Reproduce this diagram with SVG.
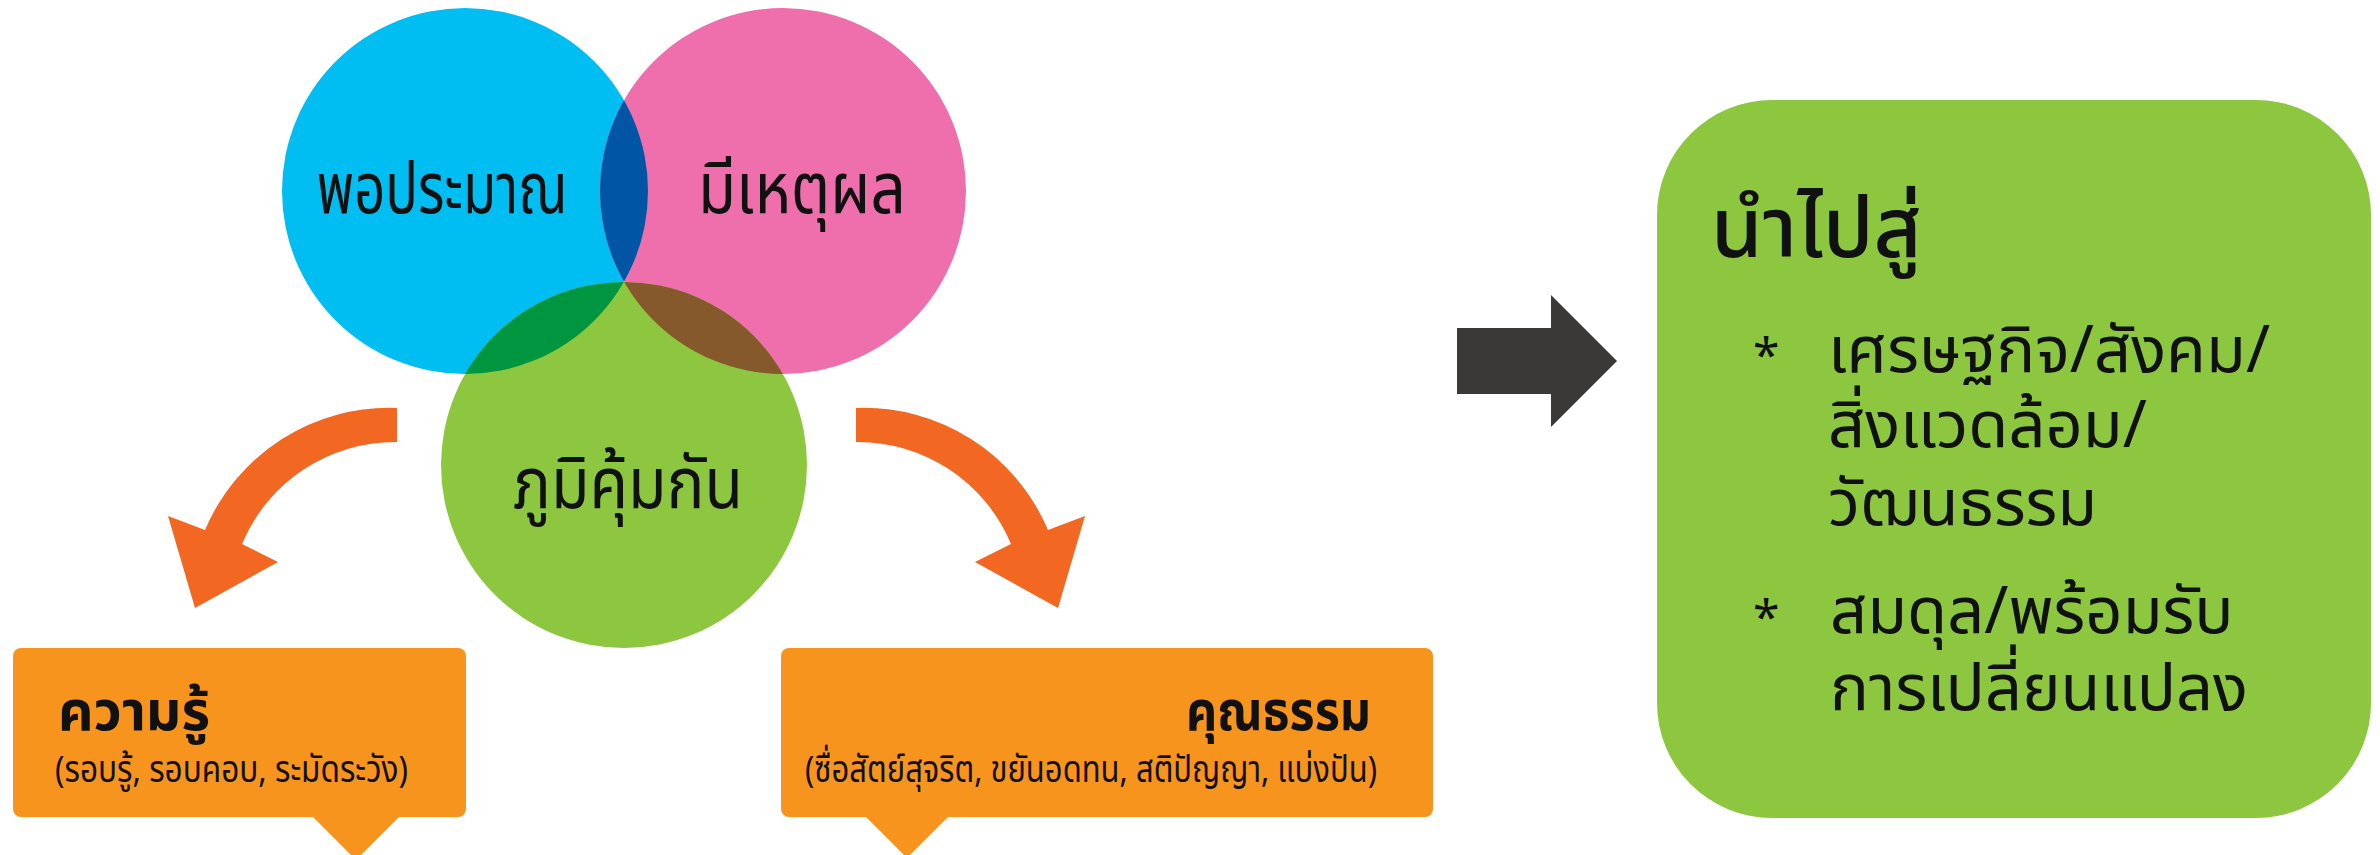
<svg xmlns="http://www.w3.org/2000/svg" width="2380" height="855" viewBox="0 0 2380 855">
<style>
  .th { font-family: "Noto Sans Thai", "Noto Sans", "DejaVu Sans", sans-serif; fill: #111; }
  .lbl { font-size: 72px; }
  .ttl { font-size: 55px; font-weight: bold; }
  .sub { font-size: 37px; }
  .gt { font-size: 65px; }
  .box { fill: #F7941D; }
  .curve { fill: #F26722; }
</style>
<defs>
  <clipPath id="cBlue"><circle cx="465" cy="191" r="183"/></clipPath>
  <clipPath id="cPink"><circle cx="783" cy="191" r="183"/></clipPath>
</defs>
<rect width="2380" height="855" fill="#ffffff"/>

<g id="circle-pormpraman">
  <circle cx="465" cy="191" r="183" fill="#00BDF2"/>
</g>
<g id="circle-meehetpon">
  <circle cx="783" cy="191" r="183" fill="#EE6FAB"/>
</g>
<g id="circle-pumkumkan">
  <circle cx="624" cy="465" r="183" fill="#8DC63F"/>
</g>
<g id="overlaps">
  <circle cx="783" cy="191" r="183" fill="#0055A5" clip-path="url(#cBlue)"/>
  <circle cx="624" cy="465" r="183" fill="#00953F" clip-path="url(#cBlue)"/>
  <circle cx="624" cy="465" r="183" fill="#85592B" clip-path="url(#cPink)"/>
</g>
<g id="labels-circles">
  <text class="th lbl" x="442" y="213" text-anchor="middle" textLength="251" lengthAdjust="spacingAndGlyphs">พอประมาณ</text>
  <text class="th lbl" x="802" y="213" text-anchor="middle" textLength="208" lengthAdjust="spacingAndGlyphs">มีเหตุผล</text>
  <text class="th lbl" x="628" y="508" text-anchor="middle" textLength="230" lengthAdjust="spacingAndGlyphs">ภูมิคุ้มกัน</text>
</g>

<g id="connectors">
  <path class="curve" d="M 397 408 A 200 200 0 0 0 205 530 L 168 516 L 195 608 L 278 562 L 242 544 A 166 166 0 0 1 397 442 Z"/>
  <path class="curve" d="M 856 408 A 200 200 0 0 1 1048 530 L 1085 516 L 1058 608 L 975 562 L 1011 544 A 166 166 0 0 0 856 442 Z"/>
  <polygon points="1457,328 1551,328 1551,295 1617,361 1551,427 1551,394 1457,394" fill="#3B3937"/>
</g>

<g id="box-knowledge">
  <rect class="box" x="13" y="648" width="453" height="169" rx="8"/>
  <polygon class="box" points="312,816 400,816 356,860"/>
  <text class="th ttl" x="58" y="730" textLength="152" lengthAdjust="spacingAndGlyphs">ความรู้</text>
  <text class="th sub" x="55" y="782" textLength="353" lengthAdjust="spacingAndGlyphs">(รอบรู้, รอบคอบ, ระมัดระวัง)</text>
</g>

<g id="box-morality">
  <rect class="box" x="781" y="648" width="652" height="169" rx="8"/>
  <polygon class="box" points="865,816 949,816 907,858"/>
  <text class="th ttl" x="1371" y="730" text-anchor="end" textLength="185" lengthAdjust="spacingAndGlyphs">คุณธรรม</text>
  <text class="th sub" x="1377" y="782" text-anchor="end" textLength="572" lengthAdjust="spacingAndGlyphs">(ซื่อสัตย์สุจริต, ขยันอดทน, สติปัญญา, แบ่งปัน)</text>
</g>

<g id="box-result">
  <rect x="1657" y="100" width="714" height="718" rx="115" fill="#8DC63F"/>
  <text class="th" x="1711" y="257" font-size="83" font-weight="500">นำไปสู่</text>
  <text class="th" x="1753" y="372" font-size="48">*</text>
  <text class="th gt" x="1828" y="372">เศรษฐกิจ/สังคม/</text>
  <text class="th gt" x="1828" y="447">สิ่งแวดล้อม/</text>
  <text class="th gt" x="1828" y="525">วัฒนธรรม</text>
  <text class="th" x="1753" y="634" font-size="48">*</text>
  <text class="th gt" x="1830" y="633">สมดุล/พร้อมรับ</text>
  <text class="th gt" x="1830" y="710">การเปลี่ยนแปลง</text>
</g>
</svg>
